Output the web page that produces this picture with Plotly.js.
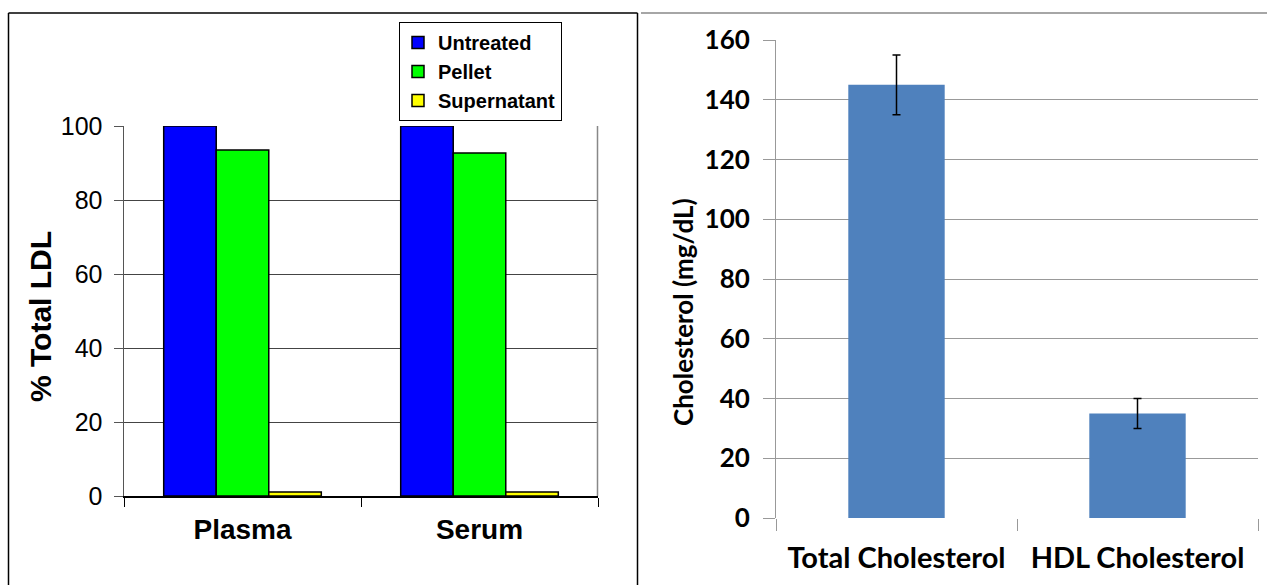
<!DOCTYPE html>
<html><head><meta charset="utf-8">
<script src="https://cdn.plot.ly/plotly-3.0.1.min.js"></script>
<style>html,body{margin:0;padding:0;background:#fff}#c{width:1267px;height:585px}</style>
</head><body><div id="c"></div>
<script>
const groups = ["Plasma", "Serum"];
const untreated = [100, 100];
const pellet = [93.5, 92.7];
const supernatant = [1.1, 1.1];
const cholCategories = ["Total Cholesterol", "HDL Cholesterol"];
const cholValues = [145, 35];
const cholErrors = [10, 5];

const W = 1267, H = 585;
const px = v => v / W, py = v => 1 - v / H;
const arial = "Liberation Sans, Arial, sans-serif";
const cal = "Lato, Open Sans, sans-serif";

const traces = [
  {type:"bar", name:"Untreated", x:groups, y:untreated, xaxis:"x", yaxis:"y",
   marker:{color:"#0000FF", line:{color:"#000", width:1.5}}},
  {type:"bar", name:"Pellet", x:groups, y:pellet, xaxis:"x", yaxis:"y",
   marker:{color:"#00FF00", line:{color:"#000", width:1.5}}},
  {type:"bar", name:"Supernatant", x:groups, y:supernatant, xaxis:"x", yaxis:"y",
   marker:{color:"#FFFF00", line:{color:"#000", width:1.5}}},
  {type:"bar", name:"Cholesterol", x:cholCategories, y:cholValues, xaxis:"x2", yaxis:"y2",
   showlegend:false, width:0.4,
   marker:{color:"#4F81BD"},
   error_y:{type:"data", array:cholErrors, visible:true, color:"#000", thickness:1.5, width:4}}
];

const layout = {
  width:W, height:H, margin:{l:0,r:0,t:0,b:0},
  paper_bgcolor:"#fff", plot_bgcolor:"rgba(0,0,0,0)",
  barmode:"group", bargap:0.335, bargroupgap:0,
  showlegend:true,
  legend:{x:px(399), y:py(121), xanchor:"left", yanchor:"bottom",
    bordercolor:"#000", borderwidth:1, bgcolor:"#fff",
    font:{family:arial, size:20, color:"#000", weight:"bold"},
    itemwidth:30, tracegroupgap:0, indentation:-2,
    entrywidth:160, entrywidthmode:"pixels"},
  xaxis:{domain:[px(124), px(598)], anchor:"y", type:"category",
    showline:true, linecolor:"#000", linewidth:1.5,
    ticks:"outside", tickson:"boundaries", ticklen:9, tickcolor:"#000",
    ticklabelstandoff:8,
    tickfont:{family:arial, size:28, color:"#000", weight:"bold"},
    showgrid:false, zeroline:false},
  yaxis:{domain:[py(496), py(126)], anchor:"x", range:[0,100],
    tickvals:[0,20,40,60,80,100],
    showline:true, linecolor:"#555", linewidth:1.5,
    ticks:"outside", ticklen:9, tickcolor:"#555", ticklabelstandoff:6,
    showgrid:true, gridcolor:"#444", gridwidth:1, zeroline:false,
    tickfont:{family:arial, size:25, color:"#000"}},
  xaxis2:{domain:[px(776), px(1258)], anchor:"y2", type:"category",
    showline:false, ticks:"outside", tickson:"boundaries", ticklen:12, tickcolor:"#999",
    ticklabelstandoff:20,
    tickfont:{family:cal, size:29, color:"#000", weight:"bold"},
    showgrid:false, zeroline:false},
  yaxis2:{domain:[py(518), py(40)], anchor:"x2", range:[0,160], dtick:20,
    showline:true, linecolor:"#999", linewidth:1,
    ticks:"outside", ticklen:12, tickcolor:"#999", ticklabelstandoff:8,
    showgrid:true, gridcolor:"#999", gridwidth:1, zeroline:false,
    tickfont:{family:cal, size:26, color:"#000", weight:"bold"}},
  annotations:[
    {text:"<b>% Total LDL</b>", xref:"paper", yref:"paper", x:px(40), y:py(317), textangle:-90,
     showarrow:false, xanchor:"center", yanchor:"middle",
     font:{family:arial, size:30, color:"#000"}},
    {text:"<b>Cholesterol (mg/dL)</b>", xref:"paper", yref:"paper", x:px(683), y:py(312), textangle:-90,
     showarrow:false, xanchor:"center", yanchor:"middle",
     font:{family:cal, size:26, color:"#000"}}
  ],
  shapes:[
    {type:"line", xref:"paper", yref:"paper", x0:px(8.5), x1:px(8.5), y0:py(13), y1:0, line:{color:"#000", width:1.5}},
    {type:"line", xref:"paper", yref:"paper", x0:px(8.5), x1:px(637.5), y0:py(13), y1:py(13), line:{color:"#000", width:1.5}},
    {type:"line", xref:"paper", yref:"paper", x0:px(637.5), x1:px(637.5), y0:py(13), y1:0, line:{color:"#000", width:1.5}},
    {type:"line", xref:"paper", yref:"paper", x0:px(641), x1:1, y0:py(13), y1:py(13), line:{color:"#888", width:1.5}},
    {type:"line", xref:"paper", yref:"paper", x0:px(597.5), x1:px(597.5), y0:py(126), y1:py(496), line:{color:"#888", width:1.5}}
  ]
};
Plotly.newPlot("c", traces, layout, {displayModeBar:false, staticPlot:true});
</script></body></html>
